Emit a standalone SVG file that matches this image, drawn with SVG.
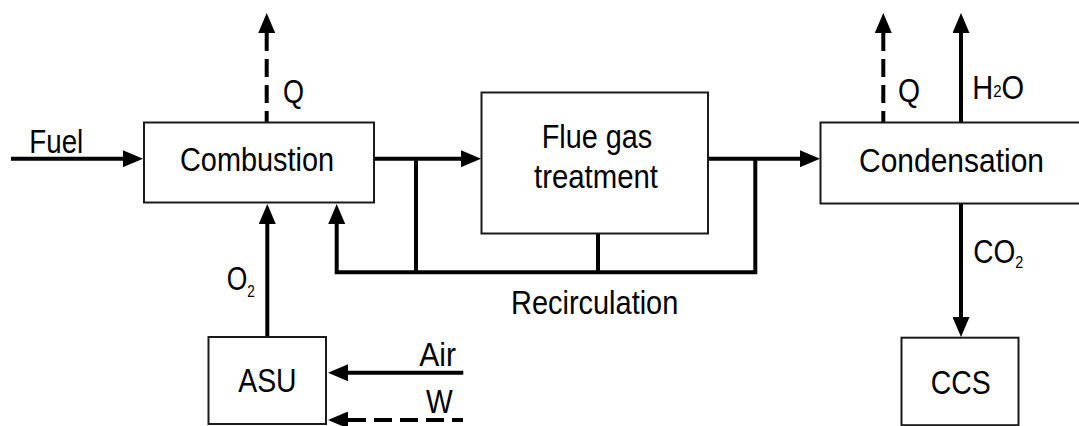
<svg xmlns="http://www.w3.org/2000/svg" width="1079" height="426" viewBox="0 0 1079 426">
<style>
.box{fill:#fff;stroke:#1a1a1a;stroke-width:2}
.t{font-family:"Liberation Sans",Arial,sans-serif;font-size:33px;fill:#000}
.s{font-size:17px}
.c{fill:none;stroke:#000;stroke-width:4;stroke-linejoin:miter}
.d{stroke-dasharray:18 8;stroke-dashoffset:7}
</style>
<defs>
<marker id="ah" markerUnits="userSpaceOnUse" viewBox="0 0 20 17" refX="0" refY="8.5" markerWidth="20" markerHeight="17" orient="auto">
<path d="M0,0 L20,8.5 L0,17 Z" fill="#000"/>
</marker>
</defs>
<rect width="1079" height="426" fill="#fff"/>
<g id="connectors">
<path class="c" d="M11,158.7 H123" marker-end="url(#ah)"/>
<path class="c" d="M374,158.7 H461" marker-end="url(#ah)"/>
<path class="c" d="M708,158.7 H800" marker-end="url(#ah)"/>
<path class="c" d="M755.3,158.7 V272.3 H336.7 V224" marker-end="url(#ah)"/>
<path class="c" d="M416,158.7 V272.3"/>
<path class="c" d="M598,233 V272.3"/>
<path class="c" d="M267.3,337 V224" marker-end="url(#ah)"/>
<path class="c d" d="M266.7,122 V33" marker-end="url(#ah)"/>
<path class="c d" d="M883.3,122 V33" marker-end="url(#ah)"/>
<path class="c" d="M961,122 V33" marker-end="url(#ah)"/>
<path class="c" d="M961,203 V317" marker-end="url(#ah)"/>
<path class="c" d="M463.3,372.7 H348" marker-end="url(#ah)"/>
<path class="c d" d="M463,420 H348" marker-end="url(#ah)"/>
</g>
<g id="labels">
<text class="t" x="29.3" y="153.3" textLength="54" lengthAdjust="spacingAndGlyphs">Fuel</text>
<text class="t" x="283" y="103" textLength="21" lengthAdjust="spacingAndGlyphs">Q</text>
<text class="t" x="898" y="101.7" textLength="22" lengthAdjust="spacingAndGlyphs">Q</text>
<text class="t" transform="translate(972.3 99) scale(0.88 1)">H<tspan class="s" dy="-2">2</tspan><tspan dy="2">O</tspan></text>
<text class="t" transform="translate(226.7 290) scale(0.8 1)">O<tspan class="s" dy="6.7">2</tspan></text>
<text class="t" transform="translate(973.3 263.3) scale(0.85 1)">CO<tspan class="s" dy="5">2</tspan></text>
<text class="t" x="419.3" y="365.7" textLength="36.7" lengthAdjust="spacingAndGlyphs">Air</text>
<text class="t" x="426" y="413.3" textLength="26.7" lengthAdjust="spacingAndGlyphs">W</text>
<text class="t" x="511" y="314.3" textLength="167.3" lengthAdjust="spacingAndGlyphs">Recirculation</text>
</g>
<g id="combustion">
<rect class="box" x="144" y="122.5" width="230" height="80"/>
<text class="t" x="180" y="170.7" textLength="154" lengthAdjust="spacingAndGlyphs">Combustion</text>
</g>
<g id="flue-gas-treatment">
<rect class="box" x="481.5" y="92.5" width="226.5" height="141"/>
<text class="t" x="541.7" y="147.7" textLength="110.6" lengthAdjust="spacingAndGlyphs">Flue gas</text>
<text class="t" x="534" y="187.7" textLength="124" lengthAdjust="spacingAndGlyphs">treatment</text>
</g>
<g id="condensation">
<rect class="box" x="820.5" y="122.5" width="270" height="81"/>
<text class="t" x="859" y="171.7" textLength="185" lengthAdjust="spacingAndGlyphs">Condensation</text>
</g>
<g id="asu">
<rect class="box" x="208.5" y="337" width="117.5" height="87"/>
<text class="t" x="238.3" y="391.7" textLength="58.3" lengthAdjust="spacingAndGlyphs">ASU</text>
</g>
<g id="ccs">
<rect class="box" x="901.5" y="337.7" width="117" height="87.5"/>
<text class="t" x="930.7" y="394.3" textLength="60" lengthAdjust="spacingAndGlyphs">CCS</text>
</g>
</svg>
